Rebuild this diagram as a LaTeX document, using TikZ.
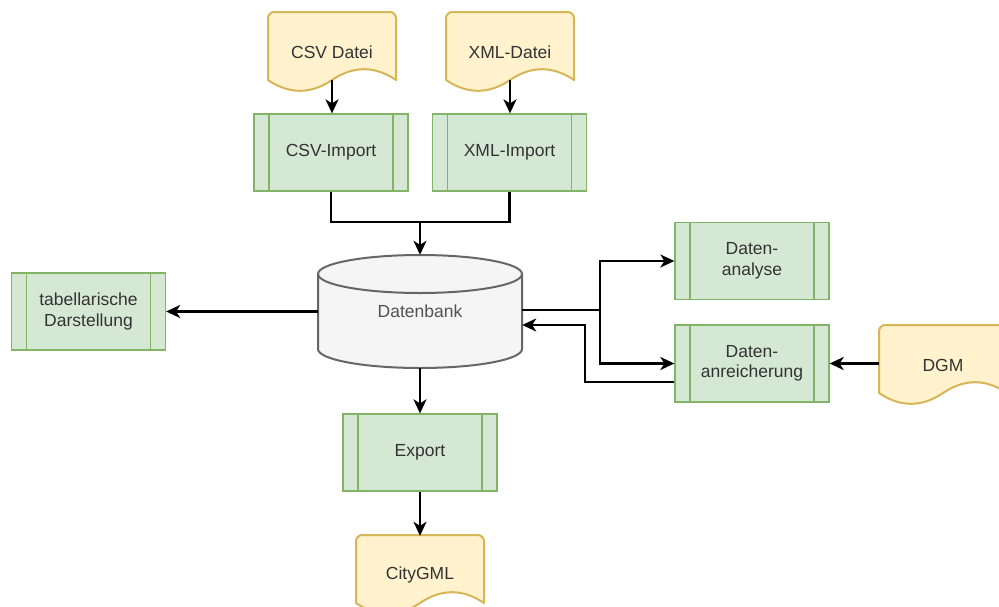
\documentclass[tikz,border=0pt]{standalone}
\usepackage{fontspec}
\setmainfont{Liberation Sans}
\usetikzlibrary{arrows.meta}
\definecolor{gfill}{HTML}{D5E8D4}
\definecolor{gline}{HTML}{82B366}
\definecolor{yfill}{HTML}{FFF2CC}
\definecolor{yline}{HTML}{D6B656}
\definecolor{cfill}{HTML}{F5F5F5}
\definecolor{cline}{HTML}{666666}
\definecolor{txt}{HTML}{333333}
\tikzset{
 lbl/.style={font=\fontsize{17.5}{20.5}\selectfont, text=txt, align=center, inner sep=0pt},
 proc/.style={lbl, draw=gline, fill=gfill, line width=1.3pt, minimum width=154pt, minimum height=77pt,
   path picture={\draw[gline, line width=1.3pt]
     ([xshift=15pt]path picture bounding box.north west) -- ([xshift=15pt]path picture bounding box.south west)
     ([xshift=-15pt]path picture bounding box.north east) -- ([xshift=-15pt]path picture bounding box.south east);}},
 docbox/.style={lbl, minimum width=128pt, minimum height=80pt},
 dbbox/.style={lbl, text=txt!85, minimum width=204pt, minimum height=113pt},
 docshape/.style={draw=yline, fill=yfill, line width=2pt, line join=round},
 dbshape/.style={draw=cline, fill=cfill, line width=2pt},
 conn/.style={draw=black, line width=2.2pt},
 arr/.style={conn, -{Stealth[length=14pt,width=13pt,inset=4pt]}},
}
\newcommand\drawdoc[1]{\path[docshape, shift={(#1)}]
  (-64,28) -- (-64,-34) .. controls (-64,-37.3) and (-60.7,-40) .. (-58,-40)
  -- (58,-40) .. controls (60.7,-40) and (64,-37.3) .. (64,-34)
  -- (64,28) .. controls (42.67,13.6) and (21.33,13.6) .. (0,28)
  .. controls (-21.33,42.4) and (-42.67,42.4) .. (-64,28) -- cycle;}
\begin{document}
\begin{tikzpicture}[x=1pt,y=-1pt]
\path[use as bounding box, clip] (0,0) rectangle (999,606);
\fill[white] (0,0) rectangle (999,606);
% document shapes
\drawdoc{332,52}
\drawdoc{510,52}
\drawdoc{943,365}
\drawdoc{420,575}
\node[docbox] (csv) at (332,52) {CSV Datei};
\node[docbox] (xml) at (510,52) {XML-Datei};
\node[docbox] (dgm) at (943,365) {DGM};
\node[docbox] (city) at (420,575) {CityGML};
% database cylinder
\begin{scope}[shift={(420,311.5)}]
\path[dbshape] (-102,-37.5) -- (-102,37.5)
  arc[start angle=180, end angle=360, x radius=102pt, y radius=19pt]
  -- (102,-37.5)
  arc[start angle=0, end angle=180, x radius=102pt, y radius=19pt] -- cycle;
\draw[cline, line width=2pt] (-102,-37.5)
  arc[start angle=180, end angle=360, x radius=102pt, y radius=19pt];
\end{scope}
\node[dbbox] (db) at (420,311.5) {Datenbank};
% processes
\node[proc] (csvimp) at (331,152.5) {CSV-Import};
\node[proc] (xmlimp) at (509.5,152.5) {XML-Import};
\node[proc] (tab) at (88.5,311.5) {tabellarische\\Darstellung};
\node[proc] (ana) at (752,261) {Daten-\\analyse};
\node[proc] (anr) at (752,363.5) {Daten-\\anreicherung};
\node[proc] (exp) at (420,452.5) {Export};
% junctions
\coordinate (j1) at (420,222);
\coordinate (j2) at (600,310);
\coordinate (j3) at (585,325);
% connectors
\draw[arr] ([yshift=12pt]csv.south) -- (csvimp.north -| csv.south);
\draw[arr] ([yshift=12pt]xml.south) -- (xmlimp.north -| xml.south);
\draw[conn] (csvimp.south) |- (j1);
\draw[conn] (xmlimp.south) |- (j1);
\draw[arr] (j1) -- (db.north);
\draw[arr] (db.west) -- (tab.east);
\draw[conn] (db.east |- j2) -- (j2);
\draw[arr] (j2) |- (ana.west);
\draw[arr] (j2) |- (anr.west);
\draw[arr] ([yshift=-18.5pt]anr.west) -| (j3) -- (db.east |- j3);
\draw[arr] (dgm.west |- anr.east) -- (anr.east);
\draw[arr] (db.south) -- (exp.north);
\draw[arr] (exp.south) -- ([yshift=-1pt]city.north);
\end{tikzpicture}
\end{document}
